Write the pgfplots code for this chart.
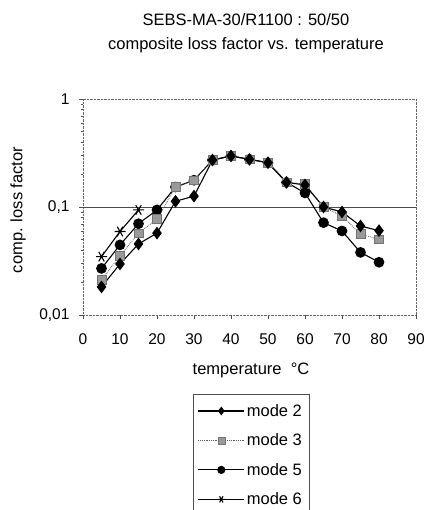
\documentclass[border=0pt]{standalone}
\usepackage{pgfplots}
\pgfplotsset{compat=1.18}
\usepackage{fontspec}
\setmainfont{Liberation Sans}
\begin{document}
\begin{tikzpicture}[x=1pt,y=1pt]
\path[use as bounding box] (0,0) rectangle (427,510);
\node[font=\fontsize{16.5}{18}\selectfont] at (246,490) {SEBS-MA-30/R1100 : 50/50};
\node[font=\fontsize{16.5}{18}\selectfont] at (246,465) {composite loss factor vs. temperature};
\node[font=\fontsize{16.5}{18}\selectfont] at (251,140) {temperature\ \ °C};
\node[font=\fontsize{16.5}{18}\selectfont, rotate=90] at (18,300) {comp. loss factor};
\begin{axis}[
  at={(83pt,195pt)}, anchor=south west,
  scale only axis, width=333pt, height=216pt,
  xmin=0, xmax=90, ymin=0.01, ymax=1, ymode=log,
  xtick={0,10,...,90},
  ytick={0.01,0.1,1}, yticklabels={{0,01},{0,1},{1}},
  axis line style={black!60, densely dotted},
  tick style={black!70, thin, solid},
  major tick length=4pt, minor tick length=2pt,
  tick align=outside, xtick pos=bottom, ytick pos=left,
  /pgf/number format/assume math mode=true,
  ticklabel style={font=\fontsize{15.5}{17}\selectfont},
  xticklabel style={yshift=-11pt},
  yticklabel style={xshift=-6pt},
  reverse legend,
  legend cell align=left,
  legend style={at={(0.329,-0.366)}, anchor=north west, draw=black!70, fill=white,
    font=\fontsize{16.5}{18}\selectfont, row sep=12pt, inner ysep=8pt, inner xsep=5pt},
  legend image post style={mark size=3.5pt},
  legend image code/.code={\draw[mark repeat=2,mark phase=2,#1] plot coordinates {(0pt,0pt) (23pt,0pt) (46pt,0pt)};},
]
\draw[black!70, thin] (axis cs:0,0.1) -- (axis cs:90,0.1);
\addplot[black, line width=1.1pt, mark=asterisk, mark size=5.5pt, mark options={solid, rotate=90, line width=1.1pt}] coordinates {
(5,0.0347) (10,0.0593) (15,0.094)};
\addlegendentry{mode 6}
\addplot[black, line width=1.1pt, mark=*, mark size=4.8pt] coordinates {
(5,0.027) (10,0.0446) (15,0.070) (20,0.094) (25,0.153) (30,0.177) (35,0.272) (40,0.297) (45,0.276) (50,0.257) (55,0.169) (60,0.135) (65,0.0716) (70,0.060) (75,0.038) (80,0.0308)};
\addlegendentry{mode 5}
\addplot[black!65, line width=0.8pt, densely dotted, mark=square*, mark size=4.3pt, mark options={solid, fill=black!40, draw=black!55, line width=0.6pt}] coordinates {
(5,0.0213) (10,0.0352) (15,0.0573) (20,0.0773) (25,0.153) (30,0.177) (35,0.272) (40,0.297) (45,0.276) (50,0.257) (55,0.169) (60,0.164) (65,0.100) (70,0.0826) (75,0.0562) (80,0.0502)};
\addlegendentry{mode 3}
\addplot[black, line width=1.1pt, mark=diamond*, mark size=5.5pt] coordinates {
(5,0.0182) (10,0.0297) (15,0.0455) (20,0.0573) (25,0.113) (30,0.126) (35,0.272) (40,0.297) (45,0.276) (50,0.257) (55,0.169) (60,0.160) (65,0.100) (70,0.090) (75,0.0667) (80,0.0604)};
\addlegendentry{mode 2}
\end{axis}
\end{tikzpicture}
\end{document}
